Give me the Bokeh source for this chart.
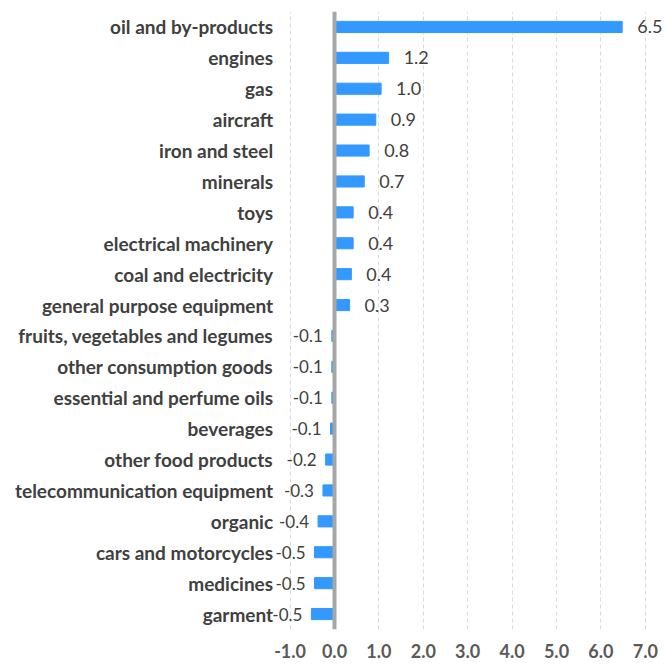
from bokeh.plotting import figure
from bokeh.models import (ColumnDataSource, FactorRange, Range1d, Span,
                          FixedTicker, NumeralTickFormatter)
from bokeh.core.properties import value
from bokeh.embed import file_html
from bokeh.resources import INLINE

categories = ["oil and by-products", "engines", "gas", "aircraft", "iron and steel",
              "minerals", "toys", "electrical machinery", "coal and electricity",
              "general purpose equipment", "fruits, vegetables and legumes",
              "other consumption goods", "essential and perfume oils", "beverages",
              "other food products", "telecommunication equipment", "organic",
              "cars and motorcycles", "medicines", "garment"]
values = [6.48, 1.22, 1.05, 0.93, 0.78, 0.67, 0.42, 0.42, 0.38, 0.34,
          -0.06, -0.06, -0.06, -0.09, -0.2, -0.26, -0.37, -0.45, -0.45, -0.52]
value_labels = ["6.5", "1.2", "1.0", "0.9", "0.8", "0.7", "0.4", "0.4", "0.4", "0.3",
                "-0.1", "-0.1", "-0.1", "-0.1", "-0.2", "-0.3", "-0.4", "-0.5", "-0.5", "-0.5"]
x_ticks = [-1, 0, 1, 2, 3, 4, 5, 6, 7]

FONT = "Lato"
TEXT = "#404040"
W = H = 665
ZERO_PX = 334.0
PX_PER_UNIT = 44.4

p = figure(width=W, height=H, output_backend="svg", toolbar_location=None,
           y_range=FactorRange(*reversed(categories)),
           x_range=Range1d(-ZERO_PX / PX_PER_UNIT, (W - ZERO_PX) / PX_PER_UNIT),
           min_border_left=0, min_border_right=0, min_border_top=11, min_border_bottom=36)
p.outline_line_color = None
p.yaxis.visible = False

p.hbar(y=categories, left=0, right=values, height=0.36, color="#3399FF")

p.add_layout(Span(location=0, dimension="height", line_color="#A6A6A6", line_width=4))

# category labels placed just left of the axis start
p.text(x=[x_ticks[0]] * len(categories), y=categories, text=categories,
       x_offset=-17, text_align="right", text_baseline="middle",
       text_font=value(FONT), text_font_style="bold", text_font_size="19px",
       text_color=TEXT)

pos = [i for i, v in enumerate(values) if v >= 0]
neg = [i for i, v in enumerate(values) if v < 0]
src_pos = ColumnDataSource(dict(x=[values[i] for i in pos], y=[categories[i] for i in pos],
                                t=[value_labels[i] for i in pos]))
src_neg = ColumnDataSource(dict(x=[values[i] for i in neg], y=[categories[i] for i in neg],
                                t=[value_labels[i] for i in neg]))
p.text(x="x", y="y", text="t", source=src_pos, x_offset=15, text_align="left",
       text_baseline="middle", text_font=value(FONT), text_font_size="18px", text_color=TEXT)
p.text(x="x", y="y", text="t", source=src_neg, x_offset=-9, text_align="right",
       text_baseline="middle", text_font=value(FONT), text_font_size="17px", text_color=TEXT)

p.xgrid.ticker = FixedTicker(ticks=x_ticks)
p.xgrid.grid_line_color = "#D9D9D9"
p.xgrid.grid_line_dash = "4 3"
p.ygrid.grid_line_color = None

p.xaxis.ticker = FixedTicker(ticks=x_ticks)
p.xaxis.formatter = NumeralTickFormatter(format="0.0")
p.xaxis.axis_line_color = None
p.xaxis.major_tick_line_color = None
p.xaxis.minor_tick_line_color = None
p.xaxis.major_tick_out = 0
p.xaxis.major_label_standoff = 14
p.xaxis.major_label_text_font = FONT
p.xaxis.major_label_text_font_style = "bold"
p.xaxis.major_label_text_font_size = "18px"
p.xaxis.major_label_text_color = "#595959"

open("out.html", "w").write(file_html(p, INLINE))
